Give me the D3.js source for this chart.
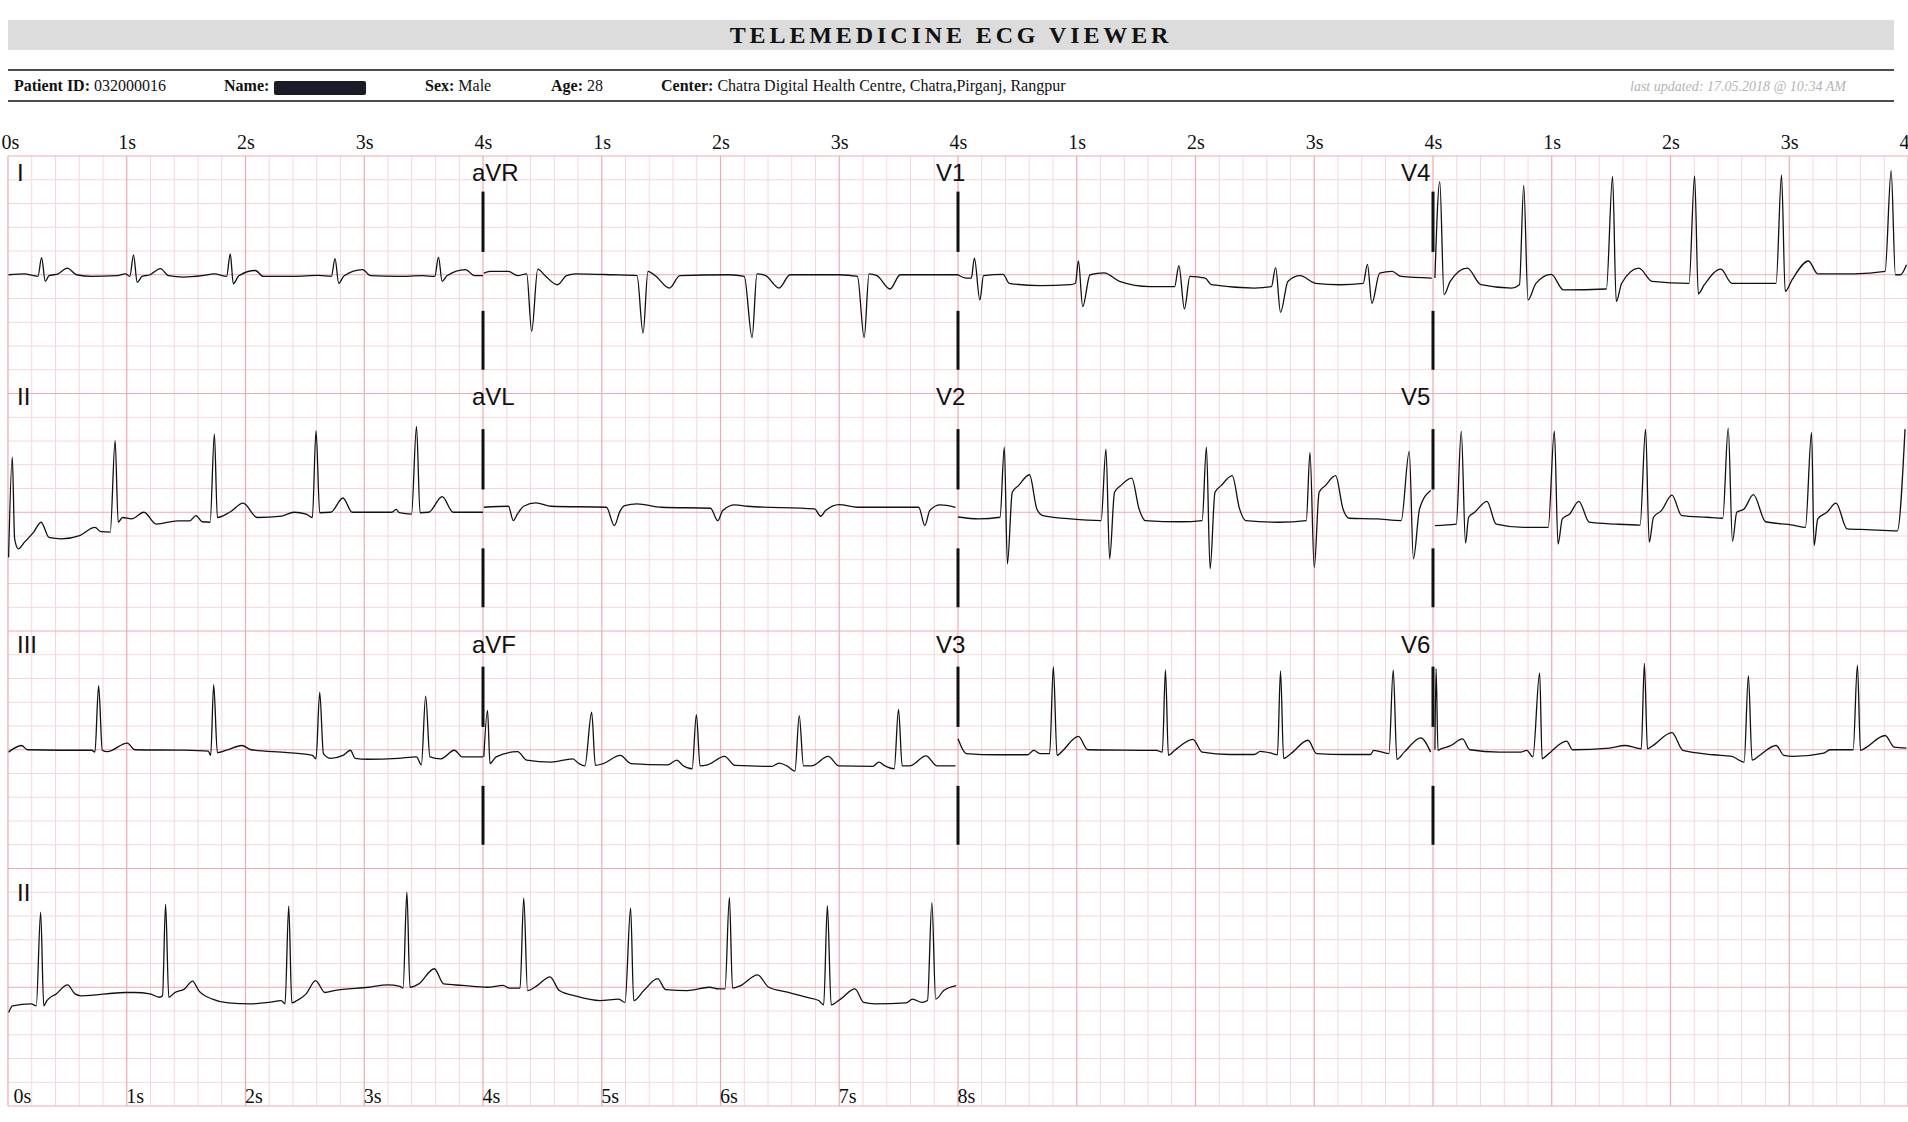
<!DOCTYPE html>
<html>
<head>
<meta charset="utf-8">
<script src="https://cdn.jsdelivr.net/npm/d3@7"></script>
<style>
  html, body { margin: 0; padding: 0; background: #ffffff; }
  svg { display: block; }
</style>
</head>
<body>
<svg id="chart" width="1908" height="1122"></svg>
<script>
// ---------------- DATA (time in seconds within each panel, amplitude in mV) ----------------
const titleText = "TELEMEDICINE ECG VIEWER";
const patientId = "032000016";
const patientSex = "Male";
const patientAge = "28";
const centerName = "Chatra Digital Health Centre, Chatra,Pirganj, Rangpur";
const lastUpdated = "last updated: 17.05.2018 @ 10:34 AM";

const topTicksFirst = [0, 1, 2, 3, 4];
const topTicksOther = [1, 2, 3, 4];
const rhythmTicks = [0, 1, 2, 3, 4, 5, 6, 7, 8];

const leadI = [[0.005,0],[0.139,0.02],[0.216,-0.02],[0.252,-0.035],[0.283,0.36],[0.314,-0.14],[0.345,-0.02],[0.423,0.02],[0.5,0.14],[0.577,0],[0.706,-0.035],[0.912,-0.02],[0.99,0.02],[1.026,-0.035],[1.057,0.42],[1.088,-0.16],[1.129,-0.035],[1.196,0],[1.284,0.13],[1.351,-0.02],[1.48,-0.05],[1.635,-0.02],[1.738,0.02],[1.841,-0.035],[1.872,0.44],[1.897,-0.19],[1.944,-0.02],[2.083,0.09],[2.15,-0.035],[2.408,-0.035],[2.614,-0.015],[2.723,-0.035],[2.754,0.34],[2.785,-0.18],[2.831,-0.02],[2.986,0.11],[3.053,-0.02],[3.285,-0.035],[3.491,-0.02],[3.594,-0.035],[3.625,0.37],[3.656,-0.14],[3.697,-0.02],[3.852,0.11],[3.93,-0.02],[4.0,-0.02]];
const leadAVR = [[0.007,0.035],[0.059,0.07],[0.214,0.07],[0.291,-0.02],[0.368,0.02],[0.41,-1.19],[0.461,0.12],[0.523,-0.02],[0.626,-0.21],[0.704,-0.02],[0.781,0.02],[1.09,0],[1.297,-0.02],[1.348,-1.23],[1.389,0.07],[1.451,-0.02],[1.57,-0.28],[1.658,-0.02],[2.07,0],[2.2,-0.035],[2.266,-1.32],[2.307,0.02],[2.38,-0.02],[2.493,-0.28],[2.586,0],[2.999,0],[3.153,-0.035],[3.21,-1.32],[3.251,0.02],[3.318,-0.02],[3.427,-0.3],[3.514,0],[4.0,0]];
const leadV1 = [[0,0],[0.07,-0.07],[0.112,-0.07],[0.138,0.35],[0.184,-0.53],[0.215,-0.02],[0.38,0.01],[0.431,-0.18],[0.69,-0.23],[0.947,-0.21],[0.989,-0.18],[1.014,0.29],[1.05,-0.67],[1.112,0],[1.231,0.04],[1.36,-0.14],[1.618,-0.25],[1.824,-0.25],[1.86,0.19],[1.907,-0.72],[1.953,-0.035],[2.082,-0.07],[2.133,-0.21],[2.494,-0.28],[2.639,-0.25],[2.675,0.15],[2.716,-0.79],[2.778,-0.14],[2.881,-0.02],[3.01,-0.18],[3.217,-0.21],[3.412,-0.18],[3.448,0.22],[3.485,-0.6],[3.551,0.035],[3.655,0.07],[3.732,-0.035],[3.99,-0.07]];
const leadV4 = [[0.016,-0.07],[0.057,1.96],[0.093,-0.42],[0.145,-0.14],[0.289,0.14],[0.403,-0.21],[0.661,-0.28],[0.728,-0.21],[0.764,1.88],[0.8,-0.53],[0.867,-0.18],[0.996,0.01],[1.099,-0.32],[1.46,-0.3],[1.512,2.07],[1.543,-0.56],[1.589,-0.18],[1.733,0.14],[1.847,-0.14],[2.156,-0.18],[2.203,2.08],[2.234,-0.4],[2.285,-0.21],[2.424,0.12],[2.517,-0.18],[2.889,-0.18],[2.935,2.1],[2.966,-0.35],[3.023,-0.11],[3.162,0.29],[3.24,0.02],[3.549,0.02],[3.807,0.07],[3.858,2.19],[3.894,0],[3.936,0],[3.987,0.21]];

const leadII = [[0.005,-0.95],[0.036,1.16],[0.056,-0.56],[0.087,-0.77],[0.139,-0.63],[0.216,-0.42],[0.278,-0.21],[0.345,-0.53],[0.448,-0.56],[0.603,-0.49],[0.732,-0.32],[0.783,-0.41],[0.861,-0.42],[0.902,1.51],[0.928,-0.21],[0.964,-0.11],[1.041,-0.14],[1.145,0],[1.248,-0.25],[1.428,-0.18],[1.531,-0.18],[1.583,-0.07],[1.635,-0.2],[1.702,-0.21],[1.738,1.65],[1.763,-0.11],[1.867,0],[1.98,0.19],[2.099,-0.11],[2.305,-0.08],[2.408,0],[2.511,-0.04],[2.563,-0.11],[2.594,1.72],[2.625,-0.01],[2.718,0],[2.821,0.3],[2.898,0],[3.233,0],[3.269,0.06],[3.295,-0.01],[3.398,-0.04],[3.44,1.81],[3.47,-0.01],[3.543,0],[3.656,0.33],[3.749,0],[4.0,0]];
const leadAVL = [[0.007,0.105],[0.214,0.126],[0.255,-0.175],[0.291,-0.035],[0.342,0.126],[0.446,0.196],[0.575,0.126],[1.039,0.105],[1.106,-0.28],[1.152,0.014],[1.193,0.14],[1.297,0.175],[1.503,0.105],[1.916,0.084],[1.977,-0.175],[2.019,0.035],[2.122,0.154],[2.225,0.126],[2.792,0.07],[2.844,-0.084],[2.885,0.035],[2.999,0.161],[3.153,0.105],[3.669,0.105],[3.721,-0.28],[3.762,0.035],[3.85,0.154],[3.979,0.105]];
const leadV2 = [[0,-0.1],[0.174,-0.14],[0.354,-0.105],[0.39,1.37],[0.416,-1.09],[0.457,0.42],[0.509,0.56],[0.602,0.79],[0.664,0.07],[0.715,-0.07],[0.947,-0.14],[1.205,-0.175],[1.246,1.33],[1.277,-0.98],[1.318,0.42],[1.37,0.56],[1.463,0.72],[1.525,0.07],[1.576,-0.175],[1.876,-0.2],[2.056,-0.175],[2.092,1.37],[2.123,-1.19],[2.164,0.42],[2.216,0.56],[2.309,0.77],[2.371,0.07],[2.422,-0.175],[2.7,-0.21],[2.933,-0.175],[2.964,1.26],[3.0,-1.16],[3.041,0.42],[3.093,0.56],[3.18,0.77],[3.242,0.07],[3.294,-0.126],[3.526,-0.14],[3.732,-0.175],[3.8,1.28],[3.835,-0.98],[3.887,0.07],[3.98,0.46]];
const leadV5 = [[0.016,-0.28],[0.196,-0.25],[0.238,1.71],[0.274,-0.65],[0.3,-0.105],[0.351,0],[0.454,0.23],[0.532,-0.25],[0.764,-0.32],[0.97,-0.32],[1.022,1.71],[1.053,-0.67],[1.089,-0.14],[1.151,-0.035],[1.228,0.23],[1.316,-0.21],[1.538,-0.25],[1.744,-0.27],[1.79,1.75],[1.821,-0.63],[1.857,-0.105],[1.924,0.035],[2.012,0.36],[2.094,-0.07],[2.311,-0.105],[2.44,-0.126],[2.486,1.77],[2.522,-0.61],[2.558,0],[2.62,0.07],[2.698,0.37],[2.801,-0.2],[3.033,-0.27],[3.136,-0.32],[3.188,1.68],[3.209,-0.7],[3.24,-0.14],[3.317,0],[3.394,0.19],[3.487,-0.35],[3.652,-0.365],[3.91,-0.39],[3.975,1.75]];

const leadIII = [[0.005,-0.05],[0.113,0.09],[0.165,0],[0.448,-0.01],[0.706,-0.01],[0.732,-0.05],[0.763,1.35],[0.794,-0.01],[0.835,-0.04],[1.005,0.14],[1.067,0],[1.48,-0.01],[1.686,-0.03],[1.707,-0.12],[1.732,1.37],[1.763,-0.06],[1.841,-0.01],[1.97,0.09],[2.047,0],[2.356,-0.06],[2.563,-0.12],[2.594,-0.19],[2.625,1.21],[2.656,-0.08],[2.718,-0.18],[2.821,-0.12],[2.883,-0.01],[2.924,-0.18],[3.027,-0.2],[3.285,-0.18],[3.44,-0.15],[3.481,-0.32],[3.517,1.13],[3.553,-0.15],[3.646,-0.19],[3.759,-0.01],[3.826,-0.15],[4.0,-0.15]];
const leadAVF = [[0.007,-0.15],[0.038,0.83],[0.059,-0.29],[0.11,-0.15],[0.291,-0.04],[0.368,-0.22],[0.575,-0.26],[0.755,-0.19],[0.807,-0.29],[0.858,-0.34],[0.915,0.79],[0.946,-0.33],[1.013,-0.29],[1.157,-0.12],[1.245,-0.29],[1.554,-0.32],[1.632,-0.22],[1.683,-0.33],[1.761,-0.4],[1.797,0.74],[1.828,-0.34],[1.89,-0.32],[2.034,-0.14],[2.122,-0.33],[2.431,-0.35],[2.493,-0.28],[2.56,-0.34],[2.627,-0.45],[2.663,0.72],[2.699,-0.34],[2.766,-0.34],[2.906,-0.14],[2.998,-0.34],[3.282,-0.35],[3.334,-0.26],[3.385,-0.34],[3.463,-0.4],[3.499,0.85],[3.53,-0.34],[3.592,-0.34],[3.731,-0.13],[3.824,-0.34],[3.979,-0.34]];
const leadV3 = [[0,0.23],[0.07,-0.08],[0.328,-0.105],[0.586,-0.105],[0.638,-0.014],[0.69,-0.08],[0.772,-0.08],[0.803,1.75],[0.834,-0.12],[0.87,-0.05],[1.014,0.28],[1.092,0],[1.669,-0.014],[1.721,-0.05],[1.747,1.68],[1.772,-0.12],[1.824,-0.014],[1.979,0.22],[2.056,-0.05],[2.288,-0.1],[2.494,-0.1],[2.546,-0.035],[2.649,-0.08],[2.69,-0.105],[2.716,1.66],[2.742,-0.18],[2.804,-0.08],[2.948,0.2],[3.02,-0.08],[3.268,-0.1],[3.474,-0.1],[3.5,-0.014],[3.629,-0.08],[3.665,1.68],[3.696,-0.2],[3.758,-0.05],[3.897,0.25],[3.98,-0.05]];
const leadV6 = [[0.016,0],[0.026,1.71],[0.042,-0.014],[0.068,0.02],[0.145,0.08],[0.248,0.23],[0.31,0],[0.558,-0.05],[0.738,-0.05],[0.79,-0.014],[0.841,-0.15],[0.898,1.62],[0.919,-0.19],[0.944,-0.15],[0.996,-0.035],[1.125,0.18],[1.176,0],[1.486,0.035],[1.615,0.09],[1.718,0.035],[1.754,0.02],[1.78,1.82],[1.806,0.02],[1.847,0.08],[2.012,0.36],[2.105,-0.014],[2.363,-0.105],[2.517,-0.14],[2.62,-0.26],[2.656,1.56],[2.687,-0.22],[2.749,-0.12],[2.889,0.09],[2.956,-0.12],[3.033,-0.14],[3.291,-0.07],[3.342,0],[3.538,0],[3.574,1.78],[3.6,-0.014],[3.652,0.056],[3.807,0.3],[3.884,0.056],[3.987,0.035]];

const rhythmII = [[0.006,-0.53],[0.038,-0.39],[0.196,-0.35],[0.238,-0.39],[0.275,1.58],[0.301,-0.39],[0.327,-0.28],[0.406,-0.14],[0.501,0.05],[0.564,-0.14],[0.617,-0.18],[0.985,-0.11],[1.064,-0.11],[1.196,-0.14],[1.275,-0.21],[1.301,-0.18],[1.327,1.75],[1.354,-0.21],[1.406,-0.11],[1.485,-0.04],[1.554,0.13],[1.606,-0.07],[1.722,-0.25],[1.854,-0.33],[2.038,-0.35],[2.196,-0.32],[2.301,-0.28],[2.333,-0.35],[2.364,1.71],[2.39,-0.33],[2.433,-0.28],[2.511,-0.14],[2.59,0.14],[2.669,-0.11],[2.748,-0.07],[3.038,0],[3.196,0.05],[3.301,0.02],[3.327,-0.02],[3.359,2.0],[3.385,0],[3.459,0.07],[3.59,0.39],[3.669,0.07],[3.827,0.04],[4.038,0],[4.169,0.04],[4.222,-0.02],[4.312,-0.02],[4.343,1.88],[4.375,-0.07],[4.459,0.04],[4.564,0.22],[4.643,-0.07],[4.775,-0.18],[4.985,-0.28],[5.143,-0.25],[5.196,-0.32],[5.243,1.67],[5.269,-0.28],[5.354,-0.07],[5.47,0.18],[5.538,-0.05],[5.722,-0.07],[5.906,0],[5.985,-0.035],[6.038,-0.035],[6.075,1.89],[6.101,-0.02],[6.17,0.035],[6.312,0.26],[6.406,0],[6.564,-0.105],[6.722,-0.21],[6.827,-0.28],[6.869,-0.37],[6.9,1.72],[6.932,-0.37],[7.011,-0.25],[7.132,-0.035],[7.206,-0.32],[7.301,-0.35],[7.564,-0.33],[7.617,-0.25],[7.696,-0.32],[7.743,-0.28],[7.78,1.78],[7.812,-0.25],[7.88,-0.07],[7.985,0.035]];

const leadNames = ["I","aVR","V1","V4","II","aVL","V2","V5","III","aVF","V3","V6"];
const leadData = [leadI, leadAVR, leadV1, leadV4, leadII, leadAVL, leadV2, leadV5, leadIII, leadAVF, leadV3, leadV6];
const rhythmName = "II";
// separator marks between columns, in mV relative to the baseline
const separatorMarks = [[0.48, 1.75], [-2.0, -0.76]];

// ---------------- LAYOUT ----------------
const svg = d3.select("#chart");
const gx0 = 8, gx1 = 1908, gy0 = 156, gy1 = 1106;
const minor = 23.75;           // 0.2 s / 0.5 mV
const colW = 475;              // 4 s per column
const rowH = 237.5;
const baseY0 = 274.75;

const colScales = d3.range(4).map(c => d3.scaleLinear().domain([0, 4]).range([gx0 + c * colW, gx0 + (c + 1) * colW]));
const rowScales = d3.range(4).map(r => d3.scaleLinear().domain([-1, 1]).range([baseY0 + r * rowH + 47.5, baseY0 + r * rowH - 47.5]));
const rhythmX = d3.scaleLinear().domain([0, 8]).range([gx0, gx0 + 2 * colW]);

// ---------------- HEADER ----------------
svg.append("rect").attr("x", 8).attr("y", 20).attr("width", 1886).attr("height", 30).attr("fill", "#dcdcdc");
svg.append("text").attr("x", 951).attr("y", 43).attr("text-anchor", "middle")
  .attr("font-family", "'Liberation Serif','Times New Roman',serif").attr("font-weight", "bold")
  .attr("font-size", 24).attr("letter-spacing", "3.9px").attr("fill", "#111").text(titleText);

svg.append("line").attr("x1", 8).attr("x2", 1894).attr("y1", 70).attr("y2", 70).attr("stroke", "#111").attr("stroke-width", 1.3);
svg.append("line").attr("x1", 8).attr("x2", 1894).attr("y1", 101).attr("y2", 101).attr("stroke", "#111").attr("stroke-width", 1.3);

const infoFont = "'Liberation Serif','Times New Roman',serif";
function infoField(x, label, value) {
  const t = svg.append("text").attr("x", x).attr("y", 91).attr("font-family", infoFont).attr("font-size", 16).attr("fill", "#111");
  t.append("tspan").attr("font-weight", "bold").text(label);
  if (value !== null) t.append("tspan").text(" " + value);
}
infoField(14, "Patient ID:", patientId);
infoField(224, "Name:", null);
svg.append("rect").attr("x", 274).attr("y", 81).attr("width", 92).attr("height", 14).attr("rx", 2).attr("fill", "#1b1b27");
infoField(425, "Sex:", patientSex);
infoField(551, "Age:", patientAge);
infoField(661, "Center:", centerName);
svg.append("text").attr("x", 1846).attr("y", 91).attr("text-anchor", "end")
  .attr("font-family", infoFont).attr("font-style", "italic").attr("font-size", 14).attr("fill", "#b4b4b4").text(lastUpdated);

// ---------------- GRID ----------------
const grid = svg.append("g");
const nV = Math.round((gx1 - gx0) / minor);
const nH = Math.round((gy1 - gy0) / minor);
d3.range(nH + 1).forEach(k => {
  if (k % 5 !== 0) grid.append("line").attr("x1", gx0).attr("x2", gx1).attr("y1", gy0 + k * minor).attr("y2", gy0 + k * minor).attr("stroke", "#f8d5d9").attr("stroke-width", 1);
});
d3.range(nV + 1).forEach(k => {
  if (k % 5 !== 0) grid.append("line").attr("y1", gy0).attr("y2", gy1).attr("x1", gx0 + k * minor).attr("x2", gx0 + k * minor).attr("stroke", "#f8d5d9").attr("stroke-width", 1);
});
d3.range(nH + 1).forEach(k => {
  if (k % 5 === 0) grid.append("line").attr("x1", gx0).attr("x2", gx1).attr("y1", gy0 + k * minor).attr("y2", gy0 + k * minor).attr("stroke", "#f1a9b1").attr("stroke-width", 1.2);
});
d3.range(nV + 1).forEach(k => {
  if (k % 5 === 0) grid.append("line").attr("y1", gy0).attr("y2", gy1).attr("x1", gx0 + k * minor).attr("x2", gx0 + k * minor).attr("stroke", "#f1a9b1").attr("stroke-width", 1.2);
});

// ---------------- AXES ----------------
const axisFont = "'Liberation Serif','Times New Roman',serif";
colScales.forEach((sc, c) => {
  const ax = d3.axisTop(sc).tickValues(c === 0 ? topTicksFirst : topTicksOther).tickSize(0).tickPadding(0).tickFormat(d => d + "s");
  const g = svg.append("g").attr("transform", "translate(0,149)").call(ax);
  g.select(".domain").remove();
  g.selectAll("text").attr("font-family", axisFont).attr("font-size", 20).attr("fill", "#111").attr("dy", 0);
  g.selectAll(".tick").filter(d => d === 0).select("text").attr("text-anchor", "start").attr("x", -7);
});
{
  const ax = d3.axisBottom(rhythmX).tickValues(rhythmTicks).tickSize(0).tickPadding(0).tickFormat(d => d + "s");
  const g = svg.append("g").attr("transform", "translate(0,1103)").call(ax);
  g.select(".domain").remove();
  g.selectAll("text").attr("font-family", axisFont).attr("font-size", 20).attr("fill", "#111")
    .attr("y", 0).attr("dy", 0).attr("text-anchor", "start").attr("x", d => d === 0 ? 5 : -1);
}

// ---------------- TRACES ----------------
const labelX = [17, 472, 936, 1401];
const labelBase = [181, 405, 653, 901];
const labelFont = "'Liberation Sans',Arial,sans-serif";

leadData.forEach((data, i) => {
  const c = i % 4, r = Math.floor(i / 4);
  const x = colScales[c], y = rowScales[r];
  const line = d3.line().x(d => x(d[0])).y(d => y(d[1])).curve(d3.curveMonotoneX);
  svg.append("path").datum(data).attr("d", line).attr("fill", "none").attr("stroke", "#111").attr("stroke-width", 1.3).attr("stroke-linejoin", "round");
  svg.append("text").attr("x", labelX[c]).attr("y", labelBase[r]).attr("font-family", labelFont).attr("font-size", 24).attr("fill", "#111").text(leadNames[i]);
  if (c > 0) {
    separatorMarks.forEach(m => {
      svg.append("line").attr("x1", x(0)).attr("x2", x(0)).attr("y1", y(m[0])).attr("y2", y(m[1])).attr("stroke", "#111").attr("stroke-width", 3);
    });
  }
});
{
  const y = rowScales[3];
  const line = d3.line().x(d => rhythmX(d[0])).y(d => y(d[1])).curve(d3.curveMonotoneX);
  svg.append("path").datum(rhythmII).attr("d", line).attr("fill", "none").attr("stroke", "#111").attr("stroke-width", 1.3).attr("stroke-linejoin", "round");
  svg.append("text").attr("x", labelX[0]).attr("y", labelBase[3]).attr("font-family", labelFont).attr("font-size", 24).attr("fill", "#111").text(rhythmName);
}
</script>
</body>
</html>
